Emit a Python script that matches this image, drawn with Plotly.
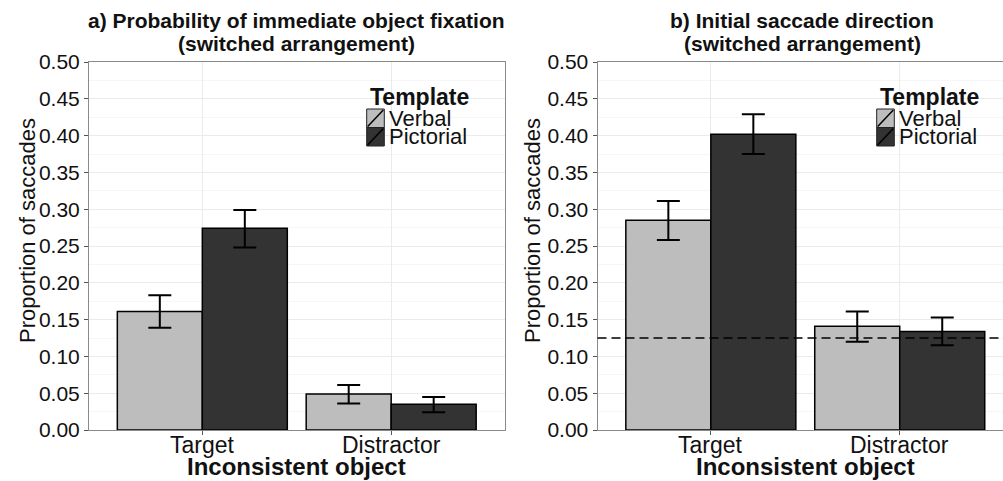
import plotly.graph_objects as go

# ---------------- data ----------------
categories = ["Target", "Distractor"]
templates = ["Verbal", "Pictorial"]

# panel a) Probability of immediate object fixation
fix_verbal = [0.161, 0.049]
fix_verbal_hi = [0.183, 0.061]
fix_verbal_lo = [0.139, 0.036]
fix_pict = [0.274, 0.035]
fix_pict_hi = [0.299, 0.045]
fix_pict_lo = [0.248, 0.024]

# panel b) Initial saccade direction
dir_verbal = [0.285, 0.141]
dir_verbal_hi = [0.311, 0.161]
dir_verbal_lo = [0.258, 0.120]
dir_pict = [0.402, 0.134]
dir_pict_hi = [0.429, 0.153]
dir_pict_lo = [0.375, 0.115]

chance_level = 0.125

y_ticks = [0.00, 0.05, 0.10, 0.15, 0.20, 0.25, 0.30, 0.35, 0.40, 0.45, 0.50]
y_tick_labels = [f"{v:.2f}" for v in y_ticks]

# ---------------- styling ----------------
W, H = 1003, 481
TOP, BOT = 62, 430
FONT = "Liberation Sans, Arial, sans-serif"
COL_V = "#bdbdbd"
COL_P = "#333333"
TXT = "#111111"
AXC = "#8a8a8a"


def px(x):
    return x / W


def py(y):
    return (BOT - y) / (BOT - TOP)


fig = go.Figure()


def add_panel(xa, ya, vals_v, hi_v, lo_v, vals_p, hi_p, lo_p):
    for name, vals, hi, lo, col in [
        ("Verbal", vals_v, hi_v, lo_v, COL_V),
        ("Pictorial", vals_p, hi_p, lo_p, COL_P),
    ]:
        fig.add_trace(go.Bar(
            x=categories, y=vals, name=name, showlegend=False,
            xaxis=xa, yaxis=ya, offsetgroup=name,
            marker=dict(color=col, line=dict(color="#000000", width=1.5)),
            error_y=dict(type="data", symmetric=False,
                         array=[h - v for h, v in zip(hi, vals)],
                         arrayminus=[v - l for l, v in zip(lo, vals)],
                         color="#000000", thickness=2, width=11.5),
        ))


add_panel("x", "y", fix_verbal, fix_verbal_hi, fix_verbal_lo,
          fix_pict, fix_pict_hi, fix_pict_lo)
add_panel("x2", "y2", dir_verbal, dir_verbal_hi, dir_verbal_lo,
          dir_pict, dir_pict_hi, dir_pict_lo)

# chance line in panel b
fig.add_shape(type="line", xref="x2 domain", yref="y2", x0=0, x1=1,
              y0=chance_level, y1=chance_level,
              line=dict(color="#000000", width=1.5, dash="9px,5px"))

xcommon = dict(type="category", showgrid=True, gridcolor="#ebebeb", gridwidth=1,
               showline=True, linecolor=AXC, linewidth=1, mirror=True,
               ticks="outside", ticklen=4, tickcolor="#555555",
               showticklabels=False, zeroline=False)
ycommon = dict(range=[0, 0.5], tickvals=y_ticks, ticktext=y_tick_labels,
               showgrid=True, gridcolor="#ebebeb", gridwidth=1,
               minor=dict(dtick=0.025, tick0=0, showgrid=True, gridcolor="#f6f6f6", gridwidth=1),
               showline=True, linecolor=AXC, linewidth=1,
               ticks="outside", ticklen=4, tickcolor="#555555",
               tickfont=dict(family=FONT, size=21, color=TXT), zeroline=False)

fig.update_layout(
    width=W, height=H,
    margin=dict(l=0, r=0, t=TOP, b=H - BOT),
    paper_bgcolor="white", plot_bgcolor="white",
    barmode="group", bargap=0.1, bargroupgap=0,
    showlegend=False,
    xaxis=dict(xcommon, domain=[px(89), px(504.5)], range=[-0.6, 1.6]),
    xaxis2=dict(xcommon, domain=[px(597.5), 1.0], range=[-0.6, -0.6 + (W - 597.5) / 188.9], anchor="y2"),
    yaxis=dict(ycommon, mirror=True, anchor="x"),
    yaxis2=dict(ycommon, mirror=False, anchor="x2"),
)

ann = []
# category tick labels (placed at category positions of each x axis)
for xr in ["x", "x2"]:
    for c in categories:
        ann.append(dict(text=c, x=c, xref=xr, y=py(445), yref="paper",
                        showarrow=False, xanchor="center", yanchor="middle",
                        font=dict(family=FONT, size=23, color=TXT)))
# titles
for cx, l1 in [(296, "a) Probability of immediate object fixation"),
               (802, "b) Initial saccade direction")]:
    ann.append(dict(text=f"<b>{l1}</b>", x=px(cx), y=py(20), xref="paper", yref="paper",
                    showarrow=False, xanchor="center", yanchor="middle",
                    font=dict(family=FONT, size=21, color=TXT)))
    ann.append(dict(text="<b>(switched arrangement)</b>", x=px(cx), y=py(43), xref="paper", yref="paper",
                    showarrow=False, xanchor="center", yanchor="middle",
                    font=dict(family=FONT, size=21, color=TXT)))
# x axis titles
for cx in [296, 805]:
    ann.append(dict(text="<b>Inconsistent object</b>", x=px(cx), y=py(466), xref="paper", yref="paper",
                    showarrow=False, xanchor="center", yanchor="middle",
                    font=dict(family=FONT, size=24, color=TXT)))
# y axis titles
for cx in [27, 532]:
    ann.append(dict(text="Proportion of saccades", x=px(cx), y=py(231), xref="paper", yref="paper",
                    showarrow=False, xanchor="center", yanchor="middle", textangle=-90,
                    font=dict(family=FONT, size=22, color=TXT)))

shapes = []
# legends
for kx in [366.7, 876.7]:
    ann.append(dict(text="<b>Template</b>", x=px(kx + 1), y=py(97), xref="paper", yref="paper",
                    showarrow=False, xanchor="left", yanchor="middle",
                    font=dict(family=FONT, size=23, color=TXT)))
    for i, (lab, col) in enumerate(zip(templates, [COL_V, COL_P])):
        y0 = 109 + i * 18.5
        y1 = y0 + 18.5
        shapes.append(dict(type="rect", xref="paper", yref="paper",
                           x0=px(kx), x1=px(kx + 17.6), y0=py(y1), y1=py(y0),
                           fillcolor=col, line=dict(color="#222222", width=1)))
        shapes.append(dict(type="line", xref="paper", yref="paper",
                           x0=px(kx + 1), x1=px(kx + 16.6), y0=py(y1 - 1), y1=py(y0 + 1),
                           line=dict(color="#000000", width=1.5)))
        ann.append(dict(text=lab, x=px(kx + 20), y=py((y0 + y1) / 2), xref="paper", yref="paper",
                        showarrow=False, xanchor="left", yanchor="middle",
                        font=dict(family=FONT, size=22, color=TXT)))

fig.update_layout(annotations=ann)
for s in shapes:
    fig.add_shape(**s)

fig.write_html(
    "out.html",
    config={"displayModeBar": False},
    post_script="document.body.style.margin='0';document.body.style.overflow='hidden';",
)
